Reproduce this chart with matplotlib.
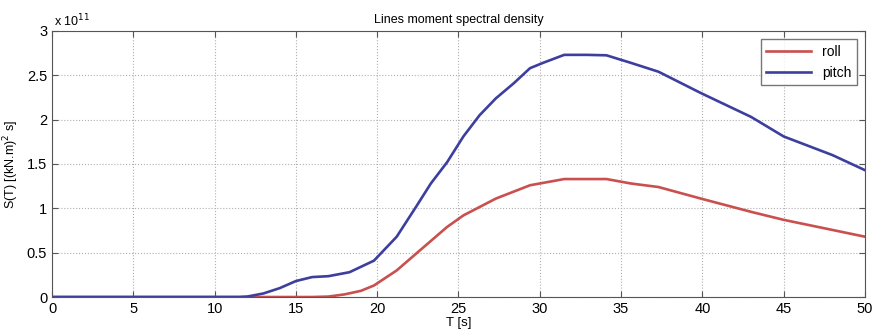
import numpy as np
import matplotlib.pyplot as plt
from matplotlib.ticker import FuncFormatter

plt.rcParams['font.family'] = ['Liberation Sans', 'DejaVu Sans']

# values in units of 1e11 (kN.m)^2 s
T = np.array([0, 11.5, 12, 13, 14, 15, 16, 17, 18.3, 19.8, 21.2, 22.4, 23.3, 24.3, 25.3,
              26.3, 27.3, 28.4, 29.4, 30.2, 31.5, 32.9, 34.1, 35.6, 37.3, 39.9, 43, 45,
              48, 50])
pitch = np.array([0, 0, 0.005, 0.04, 0.1, 0.18, 0.225, 0.235, 0.28, 0.41, 0.68, 1.02,
                  1.28, 1.52, 1.81, 2.05, 2.24, 2.41, 2.58, 2.64, 2.73, 2.73, 2.725, 2.64,
                  2.54, 2.30, 2.03, 1.81, 1.60, 1.43])
T_roll = np.array([0, 16, 17, 18, 19, 19.8, 21.2, 22.4, 24.3, 25.3, 27.3, 29.4, 31.5,
                   34.1, 35.6, 37.3, 39.9, 43, 45, 50])
roll = np.array([0, 0, 0.005, 0.03, 0.07, 0.13, 0.30, 0.49, 0.79, 0.92, 1.11, 1.26, 1.33,
                 1.33, 1.28, 1.24, 1.11, 0.96, 0.87, 0.68])

fig = plt.figure(figsize=(8.77, 3.36), dpi=100)
ax = fig.add_axes([0.0593, 0.116, 0.927, 0.792])

ax.plot(T_roll, roll, color='#c9504e', lw=1.9, label='roll')
ax.plot(T, pitch, color='#3d3f9e', lw=1.9, label='pitch')

ax.set_xlim(0, 50)
ax.set_ylim(0, 3)
ax.set_xticks(np.arange(0, 51, 5))
ax.set_yticks(np.arange(0, 3.01, 0.5))
ax.yaxis.set_major_formatter(FuncFormatter(lambda v, p: '%g' % v))
ax.tick_params(direction='in', top=True, right=True, labelsize=10.5, length=4,
               color='#555555')
ax.grid(True, linestyle=':', color='#b0b0b0', lw=0.8)
for s in ax.spines.values():
    s.set_color('#555555')

ax.text(0.003, 1.005, r'x 10$^{11}$', transform=ax.transAxes, fontsize=9,
        va='bottom', ha='left')
ax.set_title('Lines moment spectral density', fontsize=9, pad=6)
ax.set_xlabel('T [s]', fontsize=9.5, labelpad=1)
ax.set_ylabel(r'S(T) [(kN.m)$^2$ s]', fontsize=9, labelpad=4)

ax.legend(loc='upper right', fontsize=10, frameon=True, fancybox=False,
          edgecolor='#555555', handlelength=3.2, borderaxespad=0.6)

fig.savefig('out.png', dpi=100)
